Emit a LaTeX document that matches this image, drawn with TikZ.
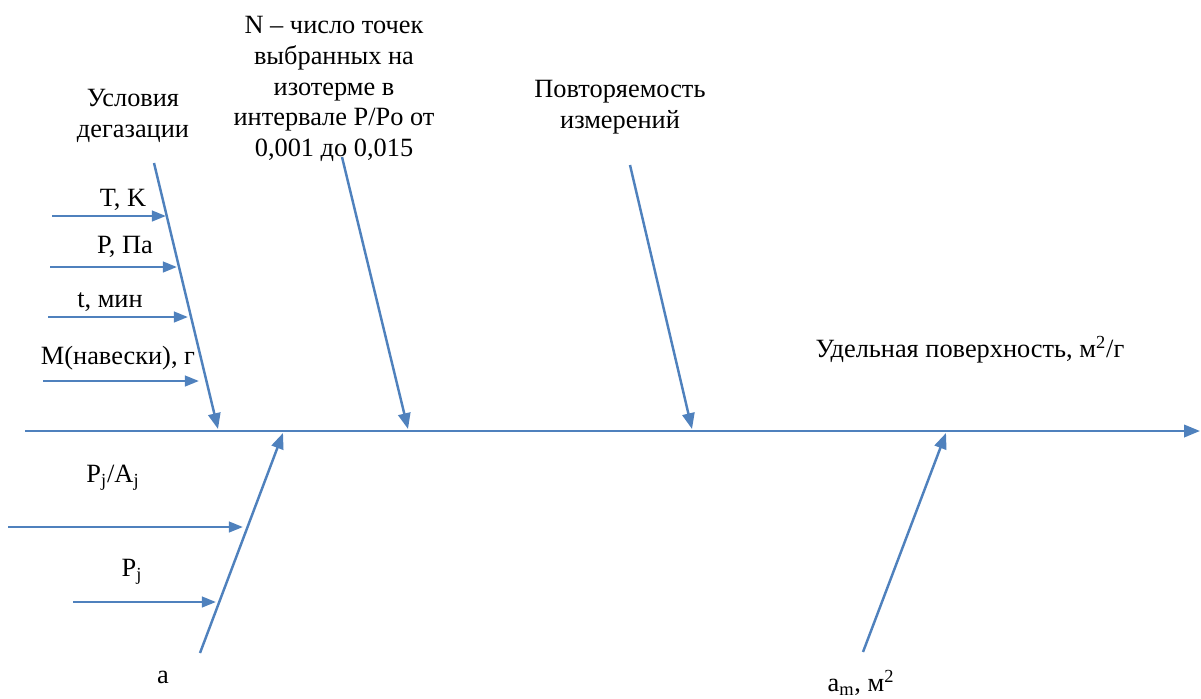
\documentclass[tikz,border=0pt]{standalone}
\usepackage{fontspec}
\setmainfont{Liberation Serif}
\usetikzlibrary{arrows.meta}
\definecolor{fishblue}{RGB}{79,129,189}

\begin{document}
\begin{tikzpicture}[
  x=0.02cm,y=-0.02cm,
  bone/.style={-{Triangle[length=9pt,width=7pt]},line width=1.4pt,draw=fishblue},
  rib/.style={-{Triangle[length=8pt,width=6pt]},line width=1.4pt,draw=fishblue},
  lbl/.style={font=\rmfamily\fontsize{15}{17.5}\selectfont,align=center,inner sep=1pt}
]
\useasboundingbox (0,0) rectangle (1201,698);

\coordinate (tail) at (25,431);
\coordinate (head) at (1200,431);
\draw[bone] (tail) -- (head);

\node[lbl] (result) at (970,350) {Удельная поверхность, м\textsuperscript{2}/г};

\node[lbl] (degas) at (133,116) {Условия\\дегазации};
\coordinate (degtop) at (154,163);
\coordinate (degtip) at (218,429);
\draw[bone] (degtop) -- (degtip);

\node[lbl] (tk) at (123,200) {T, K};
\node[lbl] (pa) at (125,247) {P, Па};
\node[lbl] (tmin) at (110,302) {t, мин};
\node[lbl] (mass) at (118,358) {M(навески), г};
\coordinate (tk0) at (52,216);
\coordinate (tk1) at (166,216);
\coordinate (pa0) at (50,267);
\coordinate (pa1) at (177,267);
\coordinate (tmin0) at (48,317);
\coordinate (tmin1) at (188,317);
\coordinate (mass0) at (43,381);
\coordinate (mass1) at (199,381);
\draw[rib] (tk0) -- (tk1);
\draw[rib] (pa0) -- (pa1);
\draw[rib] (tmin0) -- (tmin1);
\draw[rib] (mass0) -- (mass1);

\node[lbl] (npts) at (334,89) {N -- число точек\\выбранных на\\изотерме в\\интервале P/Po от\\0,001 до 0,015};
\coordinate (npttop) at (342,157);
\coordinate (nptip) at (408,429);
\draw[bone] (npttop) -- (nptip);

\node[lbl] (repeat) at (620,107) {Повторяемость\\измерений};
\coordinate (reptop) at (630,165);
\coordinate (reptip) at (692,429);
\draw[bone] (reptop) -- (reptip);

\node[lbl] (abase) at (163,677) {a};
\node[lbl] (pjaj) at (113,478) {P\textsubscript{j}/A\textsubscript{j}};
\node[lbl] (pj) at (132,572) {P\textsubscript{j}};
\coordinate (abot) at (200,653);
\coordinate (atip) at (283,433);
\draw[bone] (abot) -- (atip);
\coordinate (pjaj0) at (8,527);
\coordinate (pjaj1) at (243,527);
\coordinate (pj0) at (73,602);
\coordinate (pj1) at (216,602);
\draw[rib] (pjaj0) -- (pjaj1);
\draw[rib] (pj0) -- (pj1);

\node[lbl] (amono) at (861,683) {a\textsubscript{m}, м\textsuperscript{2}};
\coordinate (ambot) at (863,652);
\coordinate (amtip) at (946,433);
\draw[bone] (ambot) -- (amtip);
\end{tikzpicture}
\end{document}
